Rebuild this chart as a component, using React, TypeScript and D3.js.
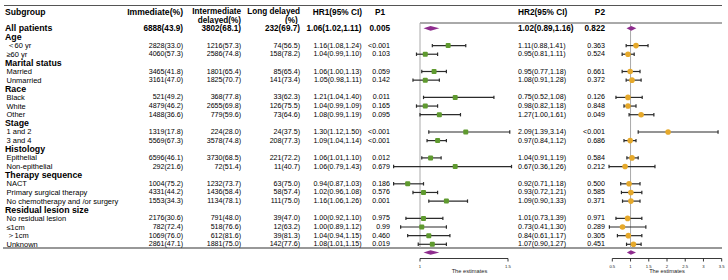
import React from "react";
import * as d3 from "d3";

const labels = ["All patients","Age","＜60 yr","≥60 yr","Marital status","Married","Unmarried","Race","Black","White","Other","Stage","1 and 2","3 and 4","Histology","Epithelial","Non-epithelial","Therapy sequence","NACT","Primary surgical therapy","No chemotherapy and /or surgery","Residual lesion size","No residual lesion","≤1cm","＞1cm","Unknown"];
const isGroup = [false,true,false,false,true,false,false,true,false,false,false,true,false,false,true,false,false,true,false,false,false,true,false,false,false,false];

const immediate = ["6888(43.9)","","2828(33.0)","4060(57.3)","","3465(41.8)","3161(47.0)","","521(49.2)","4879(46.2)","1488(36.6)","","1319(17.8)","5569(67.3)","","6596(46.1)","292(21.6)","","1004(75.2)","4331(44.2)","1553(34.3)","","2176(30.6)","782(72.4)","1069(76.0)","2861(47.1)"];
const intermediate = ["3802(68.1)","","1216(57.3)","2586(74.8)","","1801(65.4)","1825(70.7)","","368(77.8)","2655(69.8)","779(59.6)","","224(28.0)","3578(74.8)","","3730(68.5)","72(51.4)","","1232(73.7)","1436(58.4)","1134(78.1)","","791(48.0)","518(76.6)","612(81.6)","1881(75.0)"];
const longDelayed = ["232(69.7)","","74(56.5)","158(78.2)","","85(65.4)","141(73.4)","","33(62.3)","126(75.5)","73(64.6)","","24(37.5)","208(77.3)","","221(72.2)","11(40.7)","","63(75.0)","58(57.4)","111(75.0)","","39(47.0)","12(63.2)","39(81.3)","142(77.6)"];
const hr1Text = ["1.06(1.02,1.11)","","1.16(1.08,1.24)","1.04(0.99,1.10)","","1.06(1.00,1.13)","1.05(0.98,1.11)","","1.21(1.04,1.40)","1.04(0.99,1.09)","1.08(0.99,1.19)","","1.30(1.12,1.50)","1.09(1.04,1.14)","","1.06(1.01,1.10)","1.06(0.79,1.43)","","0.94(0.87,1.03)","1.02(0.96,1.08)","1.16(1.06,1.26)","","1.00(0.92,1.10)","1.00(0.89,1.12)","1.04(0.94,1.15)","1.08(1.01,1.15)"];
const p1Text = ["0.005","","<0.001","0.103","","0.059","0.142","","0.011","0.165","0.095","","<0.001","<0.001","","0.012","0.679","","0.186","0.576","0.001","","0.975","0.99","0.460","0.019"];
const hr2Text = ["1.02(0.89,1.16)","","1.11(0.88,1.41)","0.95(0.81,1.11)","","0.95(0.77,1.18)","1.08(0.91,1.28)","","0.75(0.52,1.08)","0.98(0.82,1.18)","1.27(1.00,1.61)","","2.09(1.39,3.14)","0.97(0.84,1.12)","","1.04(0.91,1.19)","0.67(0.36,1.26)","","0.92(0.71,1.18)","0.93(0.72,1.21)","1.09(0.90,1.33)","","1.01(0.73,1.39)","0.73(0.41,1.30)","0.84(0.61,1.17)","1.07(0.90,1.27)"];
const p2Text = ["0.822","","0.363","0.524","","0.661","0.372","","0.126","0.848","0.049","","<0.001","0.686","","0.584","0.212","","0.500","0.585","0.371","","0.971","0.289","0.305","0.451"];

// plotted estimates (read from the drawn marks)
const est1 = [1.06,null,1.16,1.03,null,1.08,1.03,null,1.20,1.03,1.11,null,1.26,1.10,null,1.06,1.20,null,0.93,1.02,1.15,null,1.02,1.01,1.05,1.07];
const lo1 = [1.02,null,1.07,0.98,null,1.01,0.96,null,1.02,0.98,1.00,null,1.05,1.04,null,1.01,0.85,null,0.85,0.96,1.05,null,0.92,0.89,0.93,0.99];
const hi1 = [1.11,null,1.26,1.10,null,1.15,1.11,null,1.42,1.10,1.23,null,1.51,1.15,null,1.12,1.52,null,1.02,1.10,1.27,null,1.13,1.15,1.17,1.15];
const est2 = [1.02,null,1.15,0.93,null,0.99,1.04,null,0.93,0.93,1.29,null,2.03,0.99,null,1.04,0.85,null,0.96,1.01,1.01,null,0.92,0.78,0.94,1.08];
const lo2 = [0.89,null,0.88,0.77,null,0.77,0.88,null,0.60,0.82,0.96,null,1.21,0.82,null,0.90,0.41,null,0.73,0.75,0.78,null,0.60,0.42,0.64,0.89];
const hi2 = [1.16,null,1.48,1.10,null,1.26,1.29,null,1.32,1.15,1.64,null,3.40,1.15,null,1.21,1.67,null,1.26,1.31,1.26,null,1.31,1.42,1.31,1.29];
const summary1 = [1.02, 1.06, 1.11];
const summary2 = [0.90, 1.01, 1.15];

const ticks1 = [1, 1.5];
const ticks2 = [0.5, 1, 1.5, 2, 2.5, 3, 3.5];

const FONT = "'Liberation Sans', Arial, sans-serif";
const GREEN = "#5f9a2f";
const ORANGE = "#e6a92b";
const PURPLE = "#8e2c8e";
const CI = "#2b2b2b";

export default function App() {
  const rowY = d3.scaleLinear().domain([0, 25]).range([28.3, 244.3]);
  const xL = d3.scaleLinear().domain([1, 1.5]).range([420, 508]);
  const xR = d3.scaleLinear().domain([0.5, 3.5]).range([612.3, 721.7]);
  const axisY = 258.5;
  const sumY = 252.5;

  const diamond = (x: any, lo: number, est: number, hi: number, y: number, h: number) =>
    `M${x(lo)},${y}L${x(est)},${y - h}L${x(hi)},${y}L${x(est)},${y + h}Z`;

  const ciRow = (x: any, lo: number, hi: number, y: number, key: string) => (
    <g key={key} stroke={CI} strokeWidth={1.2}>
      <line x1={x(lo)} x2={x(hi)} y1={y} y2={y} />
      <line x1={x(lo)} x2={x(lo)} y1={y - 1.7} y2={y + 1.7} />
      <line x1={x(hi)} x2={x(hi)} y1={y - 1.7} y2={y + 1.7} />
    </g>
  );

  const hdr = { fontFamily: FONT, fontWeight: 700, fill: "#000" } as any;

  return (
    <svg width={728} height={280} style={{ position: "absolute", left: 0, top: 0, background: "#fff" }}>
      <defs>
        <clipPath id="hclip"><rect x={0} y={0} width={728} height={24} /></clipPath>
      </defs>
      <rect x={0} y={0} width={728} height={280} fill="#fff" />
      {/* rules */}
      <line x1={4} x2={722} y1={5.5} y2={5.5} stroke="#555" strokeWidth={1} />
      <line x1={420} x2={722} y1={23} y2={23} stroke="#555" strokeWidth={1} />
      <line x1={3} x2={722} y1={248} y2={248} stroke="#333" strokeWidth={1.2} />

      {/* headers */}
      <g clipPath="url(#hclip)" dominantBaseline="central" {...hdr}>
        <text x={5} y={12} fontSize={8.6}>Subgroup</text>
        <text x={183} y={12} fontSize={8.6} textAnchor="end">Immediate(%)</text>
        <text x={241} y={11.2} fontSize={8.2} textAnchor="end">Intermediate</text>
        <text x={241} y={20.8} fontSize={8.2} textAnchor="end">delayed(%)</text>
        <text x={300} y={11.2} fontSize={8.2} textAnchor="end">Long delayed</text>
        <text x={285} y={20.8} fontSize={8.2}>(%)</text>
        <text x={362} y={12} fontSize={8.3} textAnchor="end">HR1(95% CI)</text>
        <text x={375} y={12} fontSize={8.3}>P1</text>
        <text x={518} y={12} fontSize={8.3}>HR2(95% CI)</text>
        <text x={605} y={12} fontSize={8.3} textAnchor="end">P2</text>
      </g>

      {/* reference lines */}
      <line x1={xL(1)} x2={xL(1)} y1={23} y2={248} stroke="#aaa" strokeWidth={1} />
      <line x1={xR(1)} x2={xR(1)} y1={23} y2={248} stroke="#aaa" strokeWidth={1} />

      {/* table rows */}
      <g fontFamily={FONT} dominantBaseline="central" fill="#000">
        {labels.map((lab, i) => {
          const y = rowY(i);
          const bold = i === 0;
          const fw = bold ? 700 : 400;
          const fs = bold ? 8.2 : 7.1;
          return (
            <g key={"r" + i}>
              {isGroup[i] || i === 0 ? (
                <text x={5} y={y} fontSize={8.8} fontWeight={700}>{lab}</text>
              ) : (
                <text x={6.5} y={y} fontSize={7.5}>{lab}</text>
              )}
              <text x={183} y={y} fontSize={fs} fontWeight={fw} textAnchor="end">{immediate[i]}</text>
              <text x={241} y={y} fontSize={fs} fontWeight={fw} textAnchor="end">{intermediate[i]}</text>
              <text x={300} y={y} fontSize={fs} fontWeight={fw} textAnchor="end">{longDelayed[i]}</text>
              <text x={361.5} y={y} fontSize={fs} fontWeight={fw} textAnchor="end">{hr1Text[i]}</text>
              <text x={390} y={y} fontSize={fs} fontWeight={fw} textAnchor="end">{p1Text[i]}</text>
              <text x={518} y={y} fontSize={fs} fontWeight={fw}>{hr2Text[i]}</text>
              <text x={605} y={y} fontSize={fs} fontWeight={fw} textAnchor="end">{p2Text[i]}</text>
            </g>
          );
        })}
      </g>

      {/* left forest */}
      {est1.map((e, i) => {
        if (e == null) return null;
        const y = rowY(i);
        if (i === 0) return <path key={"d1"} d={diamond(xL, lo1[i] as number, e, hi1[i] as number, y, 2.4)} fill={PURPLE} />;
        return (
          <g key={"f1" + i}>
            {ciRow(xL, lo1[i] as number, hi1[i] as number, y, "c1" + i)}
            <rect x={xL(e) - 2.5} y={y - 2.5} width={5} height={5} rx={1} fill={GREEN} />
          </g>
        );
      })}
      {/* right forest */}
      {est2.map((e, i) => {
        if (e == null) return null;
        const y = rowY(i);
        if (i === 0) return <path key={"d2"} d={diamond(xR, lo2[i] as number, e, hi2[i] as number, y, 2.4)} fill={PURPLE} />;
        return (
          <g key={"f2" + i}>
            {ciRow(xR, lo2[i] as number, hi2[i] as number, y, "c2" + i)}
            <circle cx={xR(e)} cy={y} r={2.8} fill={ORANGE} />
          </g>
        );
      })}

      {/* summary diamonds */}
      <path d={diamond(xL, summary1[0], summary1[1], summary1[2], sumY, 2.3)} fill={PURPLE} />
      <path d={diamond(xR, summary2[0], summary2[1], summary2[2], sumY, 2.3)} fill={PURPLE} />

      {/* axes */}
      <g stroke="#222" strokeWidth={0.9}>
        <line x1={xL(1)} x2={xL(1.5)} y1={axisY} y2={axisY} />
        {ticks1.map((t) => <line key={"t1" + t} x1={xL(t)} x2={xL(t)} y1={axisY} y2={axisY + 3} />)}
        <line x1={xR(0.5)} x2={xR(3.5)} y1={axisY} y2={axisY} />
        {ticks2.map((t) => <line key={"t2" + t} x1={xR(t)} x2={xR(t)} y1={axisY} y2={axisY + 3} />)}
      </g>
      <g fontFamily={FONT} fill="#222" textAnchor="middle" dominantBaseline="central">
        {ticks1.map((t) => <text key={"l1" + t} x={xL(t)} y={266} fontSize={4.2}>{String(t)}</text>)}
        {ticks2.map((t) => <text key={"l2" + t} x={xR(t)} y={266} fontSize={4.2}>{String(t)}</text>)}
        <text x={469.5} y={271} fontSize={5.7}>The estimates</text>
        <text x={667} y={271} fontSize={5.7}>The estimates</text>
      </g>
    </svg>
  );
}
